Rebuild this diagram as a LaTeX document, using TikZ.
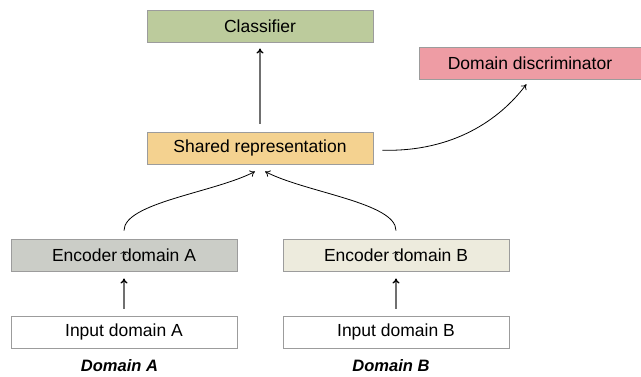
\documentclass[tikz,border=0pt]{standalone}
\usepackage{fontspec}
\setmainfont{Liberation Sans}
\usetikzlibrary{arrows.meta}

\definecolor{clsfill}{HTML}{BCCB9C}
\definecolor{discfill}{HTML}{EE9CA4}
\definecolor{sharedfill}{HTML}{F4D290}
\definecolor{encAfill}{HTML}{CBCDC7}
\definecolor{encBfill}{HTML}{EDEBDD}
\definecolor{boxline}{HTML}{9C9C9C}
\definecolor{stemgray}{HTML}{707070}

\tikzset{
  block/.style={draw=boxline, line width=0.9pt, minimum width=226pt, minimum height=32pt,
    inner sep=0pt, font=\fontsize{17.5}{20}\selectfont},
  caption/.style={font=\fontsize{16.5}{19}\selectfont\bfseries\itshape},
  link/.style={draw=black, line width=0.8pt, -{To[length=5pt,width=7pt]}},
  stem/.style={draw=stemgray, line width=1.3pt, -{To[length=5pt,width=7pt,color=black]}}
}

\begin{document}
\begin{tikzpicture}[x=1pt,y=-1pt]
  \useasboundingbox (0,0) rectangle (641,376);

  % boxes
  \node[block, fill=clsfill] (cls) at (260,26) {Classifier};
  \node[block, fill=discfill, minimum width=222pt] (disc) at (530,63) {Domain discriminator};
  \node[block, fill=sharedfill] (shared) at (260,148) {Shared representation};
  \node[block, fill=encAfill] (encA) at (124,255) {Encoder domain A};
  \node[block, fill=encBfill] (encB) at (396,255) {Encoder domain B};
  \node[block, fill=white] (inA) at (124,332) {Input domain A};
  \node[block, fill=white] (inB) at (396,332) {Input domain B};

  % captions
  \node[caption] (capA) at (119.5,366) {Domain A};
  \node[caption] (capB) at (391,366) {Domain B};

  % straight arrows
  \draw[stem, shorten <=8pt, shorten >=6pt] (shared.north) -- (cls.south);
  \draw[stem, shorten <=7pt, shorten >=7pt] (inA.north) -- (encA.south);
  \draw[stem, shorten <=7pt, shorten >=7pt] (inB.north) -- (encB.south);

  % curved arrows (shifts are in canvas direction: positive yshift is upward)
  \draw[link, shorten <=8pt]
    (encA.north) .. controls ([yshift=36pt]encA.north) and ([xshift=-45pt,yshift=-28pt]shared.south) .. ([xshift=-5pt,yshift=-7pt]shared.south);
  \draw[link, shorten <=8pt]
    (encB.north) .. controls ([yshift=36pt]encB.north) and ([xshift=45pt,yshift=-28pt]shared.south) .. ([xshift=5pt,yshift=-7pt]shared.south);
  \draw[link, shorten <=9pt, shorten >=6pt]
    ([yshift=-2pt]shared.east) .. controls ([xshift=80pt,yshift=-4pt]shared.east) and ([xshift=-30pt,yshift=-40pt]disc.south) .. (disc.south);

  % small arrow tips left inside the encoder boxes
  \draw[draw=black, line width=0.6pt, -{To[length=3.5pt,width=6pt]}]
    ([xshift=-0.5pt,yshift=2pt]encA.center) -- ([yshift=4pt]encA.center);
  \draw[draw=black, line width=0.6pt, -{To[length=3.5pt,width=6pt]}]
    ([xshift=-0.5pt,yshift=2pt]encB.center) -- ([yshift=4pt]encB.center);
\end{tikzpicture}
\end{document}
